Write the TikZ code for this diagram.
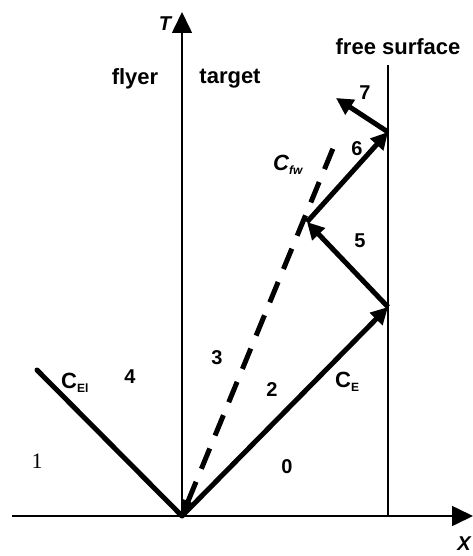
\documentclass[tikz,border=0pt]{standalone}
\usepackage{fontspec}
\setmainfont{Liberation Sans}
\newfontfamily\serifone{Liberation Serif}
\usetikzlibrary{arrows.meta}
\newcommand{\clabel}[1]{C\raisebox{-0.35ex}{\fontsize{12}{12}\selectfont #1}}
\begin{document}
\begin{tikzpicture}[x=1pt,y=-1pt,
  axis/.style={line width=1.6pt,-{Triangle[length=21pt,width=20pt]}},
  thin/.style={line width=1.4pt},
  thick arrow/.style={line width=5pt,-{Triangle[length=17pt,width=17pt]}},
  thick line/.style={line width=5pt,line cap=round},
  dash arrow/.style={line width=5pt,dash pattern=on 22pt off 14pt,{Triangle[length=16pt,width=14pt]}-},
  word/.style={font=\fontsize{22}{24}\selectfont\bfseries},
  num/.style={font=\fontsize{20}{22}\selectfont\bfseries},
  clab/.style={font=\fontsize{22}{24}\selectfont\bfseries,inner sep=0pt,anchor=west}]
\useasboundingbox (0,0) rectangle (473,556);
% coordinates
\coordinate (O) at (182,516);
\coordinate (xs) at (12,516);
\coordinate (xe) at (473,516);
\coordinate (ts) at (182,516);
\coordinate (te) at (182,12);
\coordinate (fs1) at (388,65);
\coordinate (fs2) at (388,516);
\coordinate (A) at (388,307);
\coordinate (B) at (307,222);
\coordinate (C) at (388,132);
\coordinate (D) at (336,98);
\coordinate (L) at (37,370);
\coordinate (F) at (334,146);
% axes
\draw[axis] (xs) -- (xe);
\draw[axis] (ts) -- (te);
\draw[thin] (fs1) -- (fs2);
% characteristics
\draw[thick line] (L) -- (O);
\draw[dash arrow] (O) -- (F);
\draw[thick arrow] (O) -- (A);
\draw[thick arrow] (A) -- (B);
\draw[thick arrow] (B) -- (C);
\draw[thick arrow] (C) -- (D);
% labels
\node[font=\fontsize{20}{22}\selectfont\bfseries\itshape] (T) at (165,24) {T};
\node[font=\fontsize{20}{22}\selectfont\bfseries\itshape] (X) at (464,544) {X};
\node[word] (flyer) at (135,79) {flyer};
\node[word] (target) at (230,79) {target};
\node[word] (free) at (398,47) {free surface};
\node[font=\fontsize{22}{24}\selectfont\serifone] (n1) at (37,461) {1};
\node[num] (n0) at (287,467) {0};
\node[num] (n2) at (272,390) {2};
\node[num] (n3) at (217,358) {3};
\node[num] (n4) at (130,377) {4};
\node[num] (n5) at (360,241) {5};
\node[num] (n6) at (357,149) {6};
\node[num] (n7) at (365,93) {7};
\node[clab] (cE) at (335,382) {\clabel{E}};
\node[clab] (cEl) at (61,383) {\clabel{El}};
\node[clab,font=\fontsize{22}{24}\selectfont\bfseries\itshape] (cfw) at (273,165) {\clabel{fw}};
\end{tikzpicture}
\end{document}
